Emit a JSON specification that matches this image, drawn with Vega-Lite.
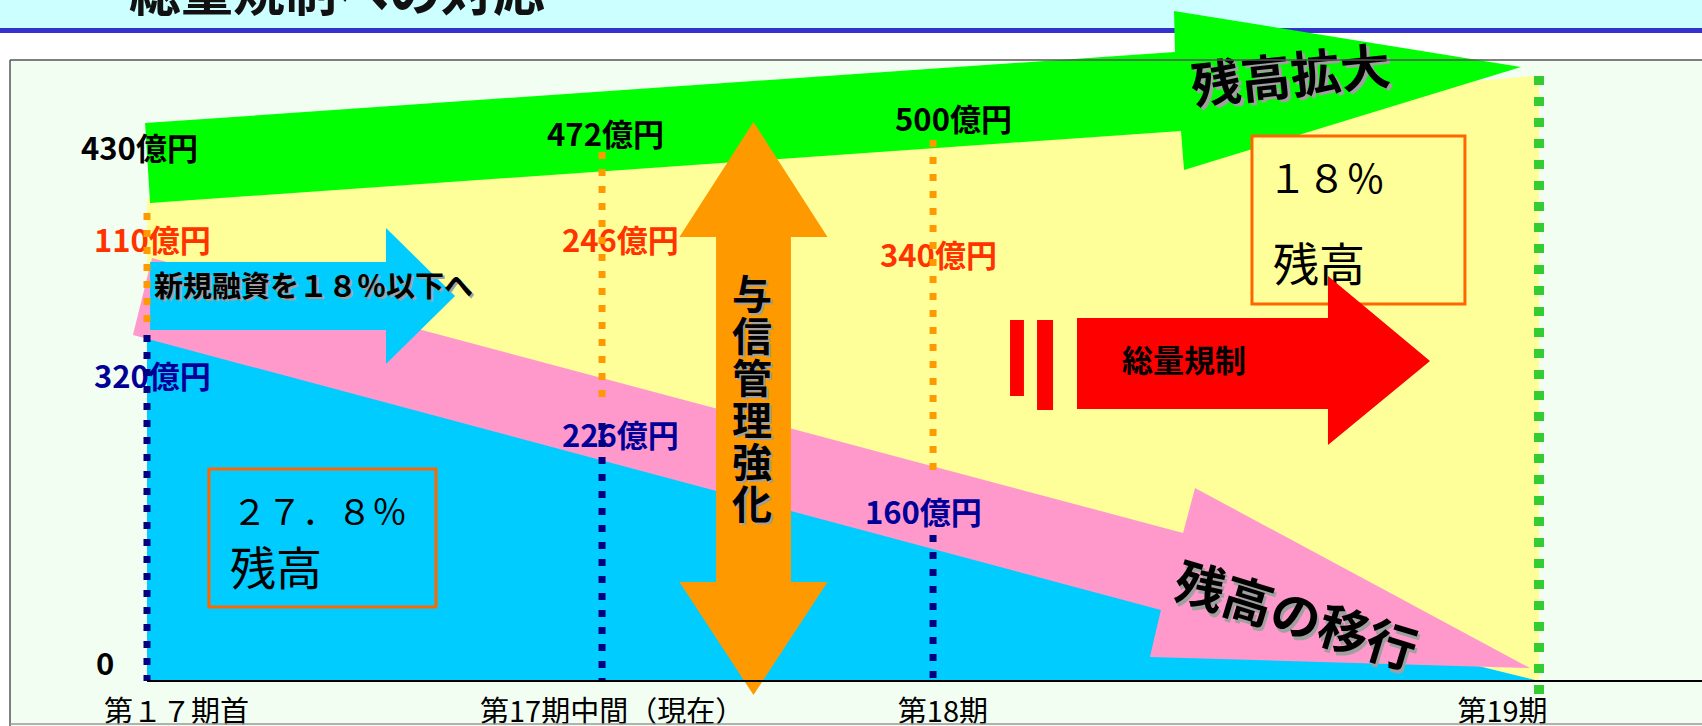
{
  "$schema": "https://vega.github.io/schema/vega-lite/v6.json",
  "width": 1702,
  "height": 726,
  "autosize": {"type": "none"},
  "padding": 0,
  "background": "#FFFFFF",
  "config": {
    "font": "Noto Sans CJK JP",
    "view": {"stroke": null, "fill": "#F3FEF3"}
  },
  "resolve": {"scale": {"color": "independent"}},
  "datasets": {
    "series": [
      {"period": "第17期首", "t": 0, "total": 450, "remaining": 320},
      {"period": "第17期中間（現在）", "t": 32.69, "total": 487, "remaining": 215},
      {"period": "第18期", "t": 56.47, "total": 514, "remaining": 139},
      {"period": "第19期", "t": 100, "total": 565, "remaining": 0}
    ],
    "shapes": [
      {"shape": "残高拡大", "i": 1, "x": -0.14, "y": 520.5},
      {"shape": "残高拡大", "i": 2, "x": 73.85, "y": 586.8},
      {"shape": "残高拡大", "i": 3, "x": 73.78, "y": 625.0},
      {"shape": "残高拡大", "i": 4, "x": 98.71, "y": 572.8},
      {"shape": "残高拡大", "i": 5, "x": 74.5, "y": 476.7},
      {"shape": "残高拡大", "i": 6, "x": 74.28, "y": 513.1},
      {"shape": "残高拡大", "i": 7, "x": 0.22, "y": 445.9},
      {"shape": "残高の移行", "i": 1, "x": 0.36, "y": 394.6},
      {"shape": "残高の移行", "i": 2, "x": 74.43, "y": 138.1},
      {"shape": "残高の移行", "i": 3, "x": 75.29, "y": 180.0},
      {"shape": "残高の移行", "i": 4, "x": 99.35, "y": 12.1},
      {"shape": "残高の移行", "i": 5, "x": 72.05, "y": 22.4},
      {"shape": "残高の移行", "i": 6, "x": 72.84, "y": 66.2},
      {"shape": "残高の移行", "i": 7, "x": -1.01, "y": 322.8},
      {"shape": "新規融資", "i": 1, "x": 0.22, "y": 390.9},
      {"shape": "新規融資", "i": 2, "x": 17.17, "y": 390.9},
      {"shape": "新規融資", "i": 3, "x": 17.17, "y": 422.6},
      {"shape": "新規融資", "i": 4, "x": 22.13, "y": 359.1},
      {"shape": "新規融資", "i": 5, "x": 17.17, "y": 295.7},
      {"shape": "新規融資", "i": 6, "x": 17.17, "y": 327.4},
      {"shape": "新規融資", "i": 7, "x": 0.22, "y": 327.4},
      {"shape": "与信管理強化", "i": 1, "x": 43.57, "y": 521.5},
      {"shape": "与信管理強化", "i": 2, "x": 48.89, "y": 414.2},
      {"shape": "与信管理強化", "i": 3, "x": 46.26, "y": 414.2},
      {"shape": "与信管理強化", "i": 4, "x": 46.26, "y": 92.4},
      {"shape": "与信管理強化", "i": 5, "x": 48.89, "y": 92.4},
      {"shape": "与信管理強化", "i": 6, "x": 43.57, "y": -13.1},
      {"shape": "与信管理強化", "i": 7, "x": 38.25, "y": 92.4},
      {"shape": "与信管理強化", "i": 8, "x": 40.88, "y": 92.4},
      {"shape": "与信管理強化", "i": 9, "x": 40.88, "y": 414.2},
      {"shape": "与信管理強化", "i": 10, "x": 38.25, "y": 414.2},
      {"shape": "総量規制", "i": 1, "x": 66.81, "y": 338.6},
      {"shape": "総量規制", "i": 2, "x": 84.84, "y": 338.6},
      {"shape": "総量規制", "i": 3, "x": 84.84, "y": 377.8},
      {"shape": "総量規制", "i": 4, "x": 92.17, "y": 298.5},
      {"shape": "総量規制", "i": 5, "x": 84.84, "y": 220.1},
      {"shape": "総量規制", "i": 6, "x": 84.84, "y": 253.7},
      {"shape": "総量規制", "i": 7, "x": 66.81, "y": 253.7}
    ]
  },
  "layer": [
    {
      "data": {"values": [
        {"part": "title band", "x": -20, "x2": 130, "y": 609.1, "y2": 700},
        {"part": "title rule", "x": -20, "x2": 130, "y": 604.5, "y2": 609.1},
        {"part": "gap", "x": -20, "x2": 130, "y": 579.3, "y2": 604.5},
        {"part": "margin", "x": -20, "x2": -9.84, "y": -60, "y2": 579.3}
      ]},
      "mark": {"type": "rect"},
      "encoding": {
        "x": {"field": "x", "type": "quantitative", "scale": {"domain": [-10.56, 111.71], "nice": false, "zero": false},
              "axis": {"grid": true, "gridColor": "#D8F3D8", "gridWidth": 1, "labels": false, "ticks": false, "domain": false, "title": null, "tickCount": 61, "minExtent": 0, "maxExtent": 0}},
        "x2": {"field": "x2"},
        "y": {"field": "y", "type": "quantitative", "scale": {"domain": [-42, 635.3], "nice": false, "zero": false},
              "axis": {"grid": true, "gridColor": "#D8F3D8", "gridWidth": 1, "labels": false, "ticks": false, "domain": false, "title": null, "tickCount": 34, "minExtent": 0, "maxExtent": 0}},
        "y2": {"field": "y2"},
        "color": {"field": "part", "type": "nominal", "scale": {"domain": ["title band", "title rule", "gap", "margin"], "range": ["#CCFFFF", "#3333CC", "#FFFFFF", "#FFFFFF"]}, "legend": null}
      }
    },
    {
      "data": {"name": "series"},
      "mark": {"type": "area", "color": "#FFFF99"},
      "encoding": {
        "x": {"field": "t", "type": "quantitative", "axis": null},
        "y": {"field": "total", "type": "quantitative", "axis": null},
        "y2": {"datum": 0}
      }
    },
    {
      "data": {"name": "series"},
      "mark": {"type": "area", "color": "#00CCFF"},
      "encoding": {
        "x": {"field": "t", "type": "quantitative", "axis": null},
        "y": {"field": "remaining", "type": "quantitative", "axis": null},
        "y2": {"datum": 0}
      }
    },
    {
      "data": {"name": "shapes"},
      "transform": [{"filter": "datum.shape == '残高拡大'"}],
      "mark": {"type": "line", "filled": true, "color": "#00FF00", "interpolate": "linear-closed", "strokeWidth": 0},
      "encoding": {
        "x": {"field": "x", "type": "quantitative", "axis": null},
        "y": {"field": "y", "type": "quantitative", "axis": null},
        "order": {"field": "i", "type": "quantitative"}
      }
    },
    {
      "data": {"name": "shapes"},
      "transform": [{"filter": "datum.shape == '残高の移行'"}],
      "mark": {"type": "line", "filled": true, "color": "#FF99CC", "interpolate": "linear-closed", "strokeWidth": 0},
      "encoding": {
        "x": {"field": "x", "type": "quantitative", "axis": null},
        "y": {"field": "y", "type": "quantitative", "axis": null},
        "order": {"field": "i", "type": "quantitative"}
      }
    },
    {
      "data": {"name": "shapes"},
      "transform": [{"filter": "datum.shape == '新規融資'"}],
      "mark": {"type": "line", "filled": true, "color": "#00CCFF", "interpolate": "linear-closed", "strokeWidth": 0},
      "encoding": {
        "x": {"field": "x", "type": "quantitative", "axis": null},
        "y": {"field": "y", "type": "quantitative", "axis": null},
        "order": {"field": "i", "type": "quantitative"}
      }
    },
    {
      "data": {"values": [
        {"panel": "既存残高", "x": 4.45, "x2": 20.76, "y": 69.0, "y2": 197.8},
        {"panel": "規制後", "x": 79.38, "x2": 94.68, "y": 351.7, "y2": 508.4}
      ]},
      "mark": {"type": "rect", "stroke": "#FF6600", "strokeWidth": 3},
      "encoding": {
        "x": {"field": "x", "type": "quantitative", "axis": null},
        "x2": {"field": "x2"},
        "y": {"field": "y", "type": "quantitative", "axis": null},
        "y2": {"field": "y2"},
        "color": {"field": "panel", "type": "nominal", "scale": {"domain": ["既存残高", "規制後"], "range": ["#00CCFF", "#FFFF99"]}, "legend": null}
      }
    },
    {
      "data": {"values": [
        {"text": "２７．８％", "x": 6.1, "y": 155.8}
      ]},
      "mark": {"type": "text", "align": "left", "baseline": "middle", "fontSize": 35, "color": "#000000"},
      "encoding": {
        "x": {"field": "x", "type": "quantitative", "axis": null},
        "y": {"field": "y", "type": "quantitative", "axis": null},
        "text": {"field": "text"}
      }
    },
    {
      "data": {"values": [
        {"text": "１８％", "x": 80.53, "y": 466.4}
      ]},
      "mark": {"type": "text", "align": "left", "baseline": "middle", "fontSize": 39, "color": "#000000"},
      "encoding": {
        "x": {"field": "x", "type": "quantitative", "axis": null},
        "y": {"field": "y", "type": "quantitative", "axis": null},
        "text": {"field": "text"}
      }
    },
    {
      "data": {"values": [
        {"text": "残高", "x": 5.96, "y": 102.6},
        {"text": "残高", "x": 80.89, "y": 386.2}
      ]},
      "mark": {"type": "text", "align": "left", "baseline": "middle", "fontSize": 46, "color": "#000000"},
      "encoding": {
        "x": {"field": "x", "type": "quantitative", "axis": null},
        "y": {"field": "y", "type": "quantitative", "axis": null},
        "text": {"field": "text"}
      }
    },
    {
      "data": {"values": [
        {"label": "430億円", "x": -4.74, "y": 494.4, "series": "総残高"},
        {"label": "110億円", "x": -3.81, "y": 408.6, "series": "新規融資"},
        {"label": "320億円", "x": -3.81, "y": 281.7, "series": "既存残高"},
        {"label": "472億円", "x": 28.74, "y": 507.5, "series": "総残高"},
        {"label": "246億円", "x": 29.81, "y": 408.6, "series": "新規融資"},
        {"label": "226億円", "x": 29.81, "y": 226.7, "series": "既存残高"},
        {"label": "500億円", "x": 53.74, "y": 521.5, "series": "総残高"},
        {"label": "340億円", "x": 52.66, "y": 394.6, "series": "新規融資"},
        {"label": "160億円", "x": 51.58, "y": 154.9, "series": "既存残高"},
        {"label": "0", "x": -3.66, "y": 14.0, "series": "総残高"}
      ]},
      "mark": {"type": "text", "align": "left", "baseline": "middle", "fontSize": 31, "fontWeight": "bold"},
      "encoding": {
        "x": {"field": "x", "type": "quantitative", "axis": null},
        "y": {"field": "y", "type": "quantitative", "axis": null},
        "text": {"field": "label"},
        "color": {"field": "series", "type": "nominal", "scale": {"domain": ["総残高", "新規融資", "既存残高"], "range": ["#000000", "#FF3300", "#000099"]}, "legend": null}
      }
    },
    {
      "data": {"values": [
        {"period": "第17期首", "x": 0, "y": 436.6, "y2": 331.2},
        {"period": "第17期中間（現在）", "x": 32.69, "y": 493.5, "y2": 259.3},
        {"period": "第18期", "x": 56.47, "y": 504.7, "y2": 190.3}
      ]},
      "mark": {"type": "rule", "color": "#FF9900", "strokeWidth": 7, "strokeDash": [7, 10]},
      "encoding": {
        "x": {"field": "x", "type": "quantitative", "axis": null},
        "y": {"field": "y", "type": "quantitative", "axis": null},
        "y2": {"field": "y2"}
      }
    },
    {
      "data": {"values": [
        {"period": "第17期首", "x": 0, "y": 322.8, "y2": 0},
        {"period": "第17期中間（現在）", "x": 32.69, "y": 240.7, "y2": 0},
        {"period": "第18期", "x": 56.47, "y": 136.2, "y2": 0}
      ]},
      "mark": {"type": "rule", "color": "#000080", "strokeWidth": 7, "strokeDash": [7, 10]},
      "encoding": {
        "x": {"field": "x", "type": "quantitative", "axis": null},
        "y": {"field": "y", "type": "quantitative", "axis": null},
        "y2": {"field": "y2"}
      }
    },
    {
      "data": {"values": [
        {"period": "第19期", "x": 100, "y": 564.4, "y2": -14.9}
      ]},
      "mark": {"type": "rule", "color": "#33CC33", "strokeWidth": 10, "strokeDash": [9, 12]},
      "encoding": {
        "x": {"field": "x", "type": "quantitative", "axis": null},
        "y": {"field": "y", "type": "quantitative", "axis": null},
        "y2": {"field": "y2"}
      }
    },
    {
      "data": {"name": "shapes"},
      "transform": [{"filter": "datum.shape == '与信管理強化'"}],
      "mark": {"type": "line", "filled": true, "color": "#FF9900", "interpolate": "linear-closed", "strokeWidth": 0},
      "encoding": {
        "x": {"field": "x", "type": "quantitative", "axis": null},
        "y": {"field": "y", "type": "quantitative", "axis": null},
        "order": {"field": "i", "type": "quantitative"}
      }
    },
    {
      "data": {"values": [{"text": "与\n信\n管\n理\n強\n化", "x": 43.46, "y": 358.2}]},
      "mark": {"type": "text", "align": "center", "baseline": "middle", "fontSize": 40, "fontWeight": "bold", "lineBreak": "\n", "lineHeight": 42, "color": "#A0A0A0", "dx": 2, "dy": 2},
      "encoding": {
        "x": {"field": "x", "type": "quantitative", "axis": null},
        "y": {"field": "y", "type": "quantitative", "axis": null},
        "text": {"field": "text"}
      }
    },
    {
      "data": {"values": [{"text": "与\n信\n管\n理\n強\n化", "x": 43.46, "y": 358.2}]},
      "mark": {"type": "text", "align": "center", "baseline": "middle", "fontSize": 40, "fontWeight": "bold", "lineBreak": "\n", "lineHeight": 42, "color": "#000000"},
      "encoding": {
        "x": {"field": "x", "type": "quantitative", "axis": null},
        "y": {"field": "y", "type": "quantitative", "axis": null},
        "text": {"field": "text"}
      }
    },
    {
      "data": {"values": [
        {"bar": "左", "x": 62.0, "x2": 63.0, "y": 265.9, "y2": 336.8},
        {"bar": "右", "x": 63.94, "x2": 65.09, "y": 252.8, "y2": 336.8}
      ]},
      "mark": {"type": "rect", "color": "#FF0000"},
      "encoding": {
        "x": {"field": "x", "type": "quantitative", "axis": null},
        "x2": {"field": "x2"},
        "y": {"field": "y", "type": "quantitative", "axis": null},
        "y2": {"field": "y2"}
      }
    },
    {
      "data": {"name": "shapes"},
      "transform": [{"filter": "datum.shape == '総量規制'"}],
      "mark": {"type": "line", "filled": true, "color": "#FF0000", "interpolate": "linear-closed", "strokeWidth": 0},
      "encoding": {
        "x": {"field": "x", "type": "quantitative", "axis": null},
        "y": {"field": "y", "type": "quantitative", "axis": null},
        "order": {"field": "i", "type": "quantitative"}
      }
    },
    {
      "data": {"values": [{"text": "総量規制", "x": 70.04, "y": 296.6}]},
      "mark": {"type": "text", "align": "left", "baseline": "middle", "fontSize": 31, "fontWeight": "bold", "color": "#000000"},
      "encoding": {
        "x": {"field": "x", "type": "quantitative", "axis": null},
        "y": {"field": "y", "type": "quantitative", "axis": null},
        "text": {"field": "text"}
      }
    },
    {
      "data": {"values": [{"text": "残高拡大", "x": 82.18, "y": 561.6}]},
      "mark": {"type": "text", "align": "center", "baseline": "middle", "fontSize": 50, "fontWeight": "bold", "angle": 354, "color": "#A0A0A0", "dx": 3, "dy": 3},
      "encoding": {
        "x": {"field": "x", "type": "quantitative", "axis": null},
        "y": {"field": "y", "type": "quantitative", "axis": null},
        "text": {"field": "text"}
      }
    },
    {
      "data": {"values": [{"text": "残高拡大", "x": 82.18, "y": 561.6}]},
      "mark": {"type": "text", "align": "center", "baseline": "middle", "fontSize": 50, "fontWeight": "bold", "angle": 354, "color": "#000000"},
      "encoding": {
        "x": {"field": "x", "type": "quantitative", "axis": null},
        "y": {"field": "y", "type": "quantitative", "axis": null},
        "text": {"field": "text"}
      }
    },
    {
      "data": {"values": [{"text": "残高の移行", "x": 82.47, "y": 57.8}]},
      "mark": {"type": "text", "align": "center", "baseline": "middle", "fontSize": 50, "fontWeight": "bold", "angle": 17, "color": "#A0A0A0", "dx": 3, "dy": 3},
      "encoding": {
        "x": {"field": "x", "type": "quantitative", "axis": null},
        "y": {"field": "y", "type": "quantitative", "axis": null},
        "text": {"field": "text"}
      }
    },
    {
      "data": {"values": [{"text": "残高の移行", "x": 82.47, "y": 57.8}]},
      "mark": {"type": "text", "align": "center", "baseline": "middle", "fontSize": 50, "fontWeight": "bold", "angle": 17, "color": "#000000"},
      "encoding": {
        "x": {"field": "x", "type": "quantitative", "axis": null},
        "y": {"field": "y", "type": "quantitative", "axis": null},
        "text": {"field": "text"}
      }
    },
    {
      "data": {"values": [{"text": "新規融資を１８％以下へ", "x": 0.5, "y": 366.6}]},
      "mark": {"type": "text", "align": "left", "baseline": "middle", "fontSize": 29, "fontWeight": "bold", "color": "#A0A0A0", "dx": 2, "dy": 2},
      "encoding": {
        "x": {"field": "x", "type": "quantitative", "axis": null},
        "y": {"field": "y", "type": "quantitative", "axis": null},
        "text": {"field": "text"}
      }
    },
    {
      "data": {"values": [{"text": "新規融資を１８％以下へ", "x": 0.5, "y": 366.6}]},
      "mark": {"type": "text", "align": "left", "baseline": "middle", "fontSize": 29, "fontWeight": "bold", "color": "#000000"},
      "encoding": {
        "x": {"field": "x", "type": "quantitative", "axis": null},
        "y": {"field": "y", "type": "quantitative", "axis": null},
        "text": {"field": "text"}
      }
    },
    {
      "data": {"values": [
        {"line": "基線", "x": 0, "x2": 130, "y": 0, "y2": 0}
      ]},
      "mark": {"type": "rule", "color": "#000000", "strokeWidth": 2},
      "encoding": {
        "x": {"field": "x", "type": "quantitative", "axis": null},
        "x2": {"field": "x2"},
        "y": {"field": "y", "type": "quantitative", "axis": null},
        "y2": {"field": "y2"}
      }
    },
    {
      "data": {"values": [
        {"period": "第１７期首", "x": 2.12, "y": -29.9},
        {"period": "第17期中間（現在）", "x": 33.41, "y": -29.9},
        {"period": "第18期", "x": 57.18, "y": -29.9},
        {"period": "第19期", "x": 97.38, "y": -29.9}
      ]},
      "mark": {"type": "text", "align": "center", "baseline": "middle", "fontSize": 29, "color": "#000000"},
      "encoding": {
        "x": {"field": "x", "type": "quantitative", "axis": null},
        "y": {"field": "y", "type": "quantitative", "axis": null},
        "text": {"field": "period"}
      }
    },
    {
      "data": {"values": [{"text": "総量規制への対応", "x": -1.29, "y": 625.0}]},
      "mark": {"type": "text", "align": "left", "baseline": "alphabetic", "fontSize": 52, "fontWeight": "bold", "color": "#111111"},
      "encoding": {
        "x": {"field": "x", "type": "quantitative", "axis": null},
        "y": {"field": "y", "type": "quantitative", "axis": null},
        "text": {"field": "text"}
      }
    },
    {
      "data": {"values": [
        {"edge": "左", "x": -9.84, "x2": -9.84, "y": -60, "y2": 579.3},
        {"edge": "上", "x": -9.84, "x2": 130, "y": 579.3, "y2": 579.3}
      ]},
      "mark": {"type": "rule", "color": "#555555", "strokeWidth": 1.5},
      "encoding": {
        "x": {"field": "x", "type": "quantitative", "axis": null},
        "x2": {"field": "x2"},
        "y": {"field": "y", "type": "quantitative", "axis": null},
        "y2": {"field": "y2"}
      }
    },
    {
      "data": {"values": [
        {"edge": "下", "x": -9.84, "x2": 130, "y": -40.1, "y2": -40.1}
      ]},
      "mark": {"type": "rule", "color": "#999999", "strokeWidth": 1.5},
      "encoding": {
        "x": {"field": "x", "type": "quantitative", "axis": null},
        "x2": {"field": "x2"},
        "y": {"field": "y", "type": "quantitative", "axis": null},
        "y2": {"field": "y2"}
      }
    }
  ]
}
